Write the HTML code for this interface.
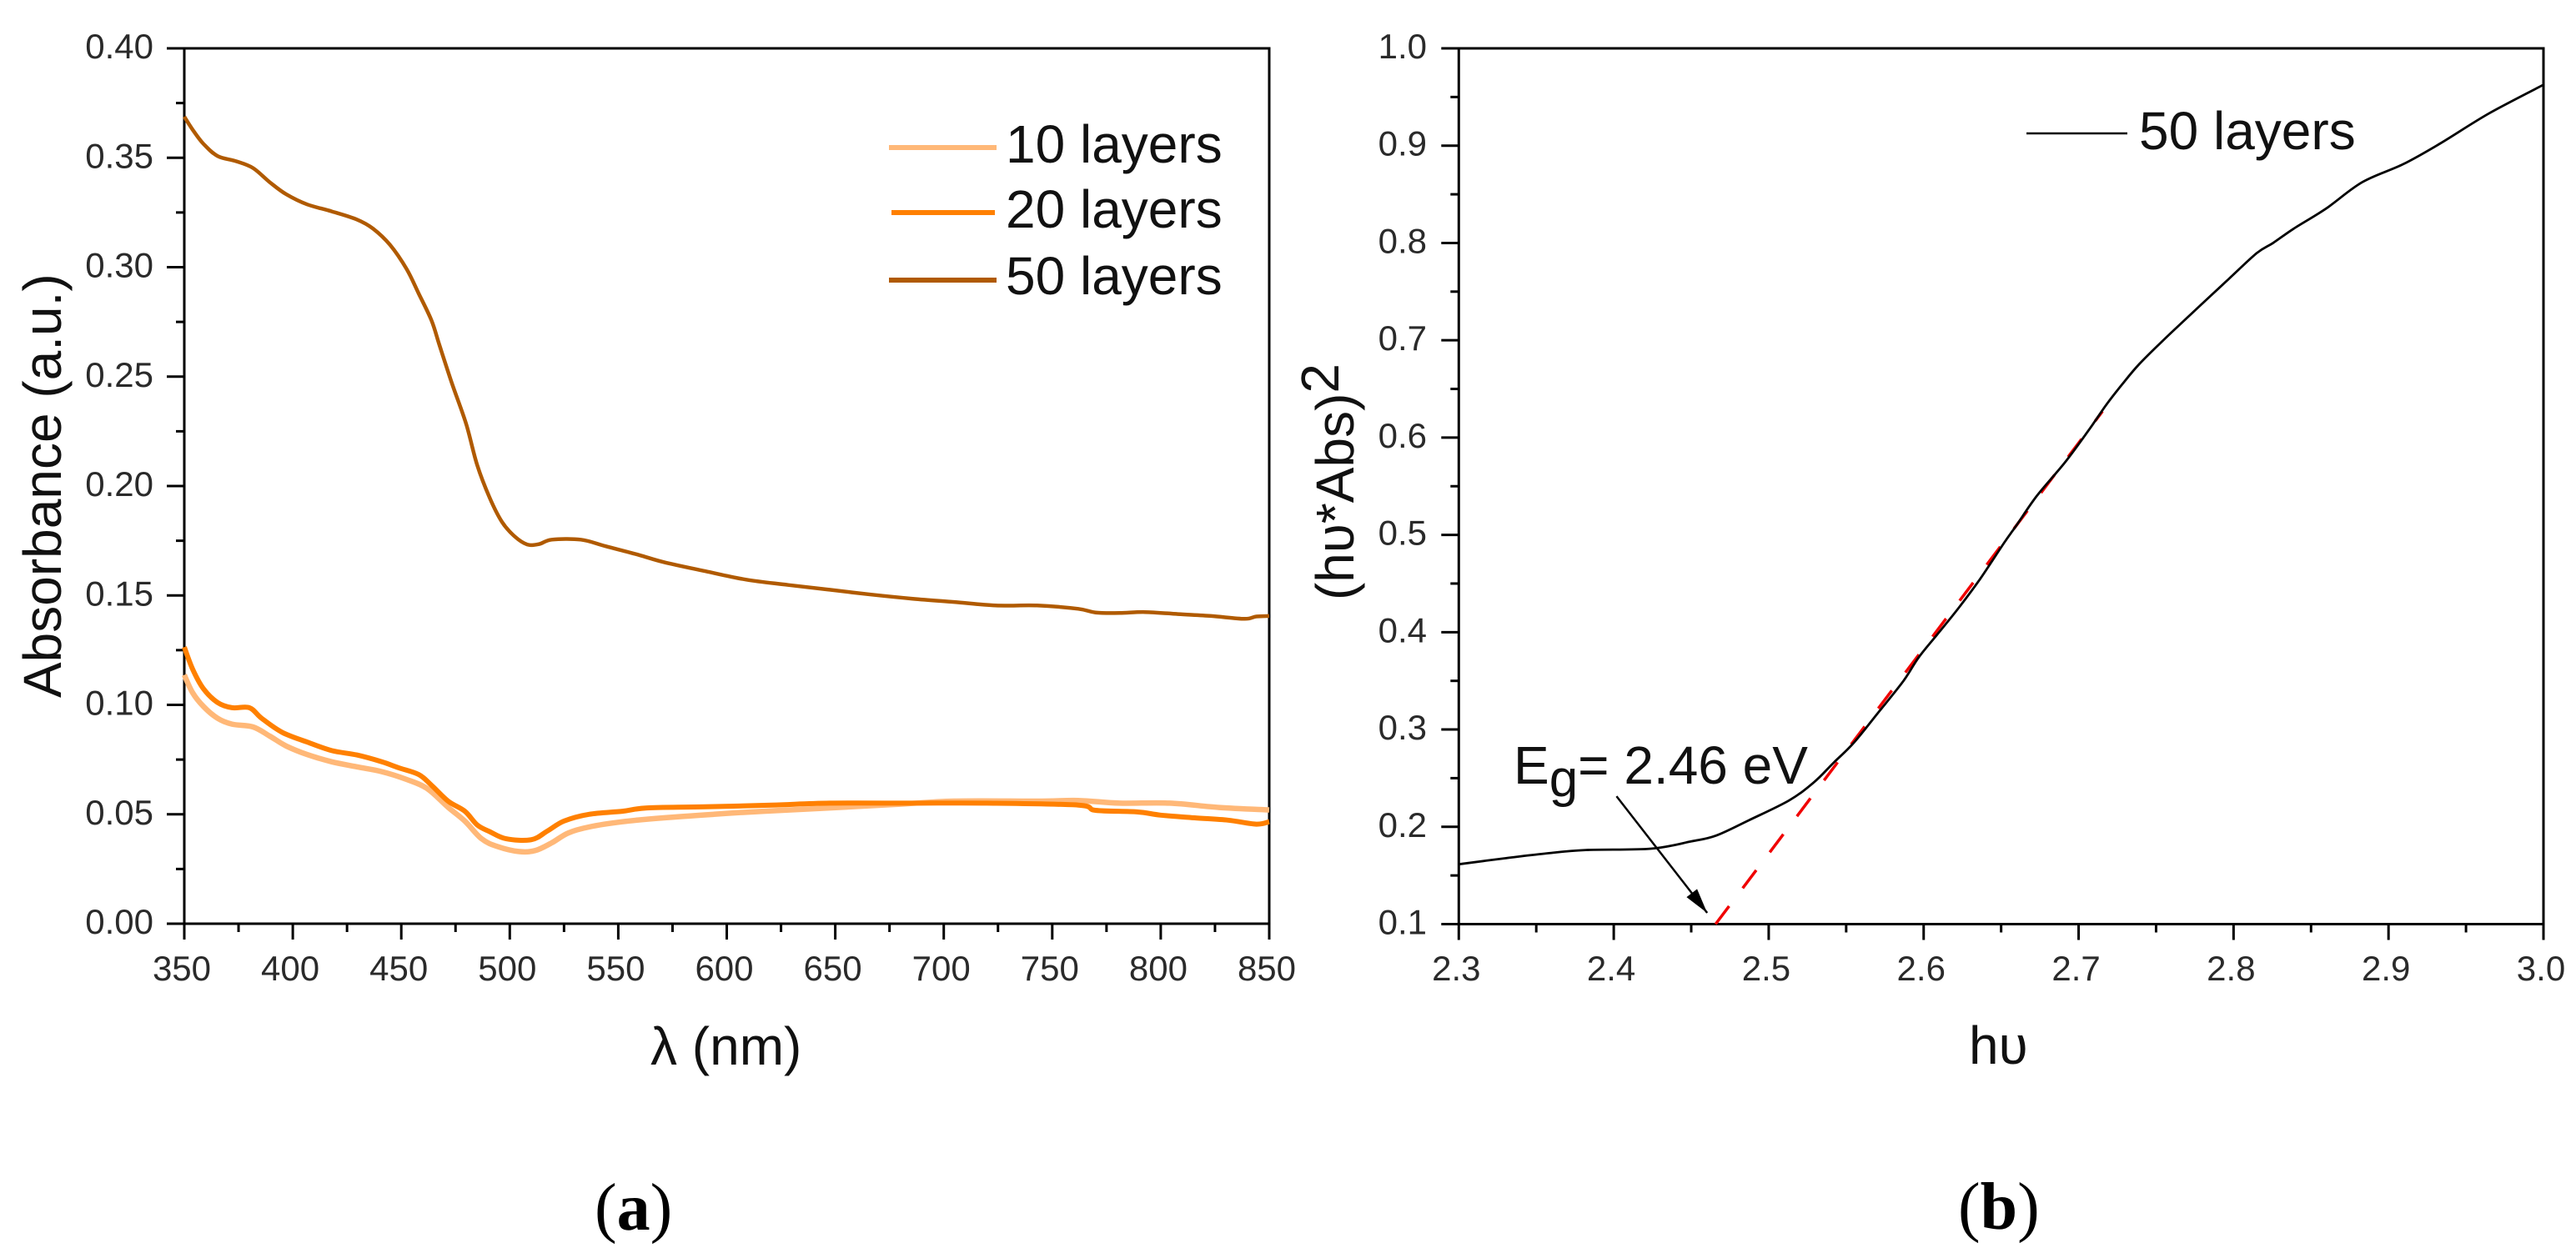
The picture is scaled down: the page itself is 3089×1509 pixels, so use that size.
<!DOCTYPE html>
<html lang="en">
<head>
<meta charset="utf-8">
<title>Absorbance spectra and band gap plot</title>
<style>
html,body{margin:0;padding:0;background:#fff;width:3089px;height:1509px;overflow:hidden}
svg{display:block}
text{font-family:"Liberation Sans",sans-serif;fill:#111}
.tick{font-size:42px;fill:#2a2a2a}
.big{font-size:64px}
.cap{font-family:"Liberation Serif",serif;font-size:80px;fill:#000}
</style>
</head>
<body>
<svg id="fig" xmlns="http://www.w3.org/2000/svg" width="3089" height="1509" viewBox="0 0 3089 1509">
  <rect x="0" y="0" width="3089" height="1509" fill="#fff"/>
  <g id="panelA"></g>
  <g id="panelB"></g>

  <text class="big" transform="translate(73,837) rotate(-90)">Absorbance (a.u.)</text>
  <text class="big" x="780" y="1277">λ (nm)</text>
  <text class="cap" x="713" y="1475">(<tspan font-weight="bold">a</tspan>)</text>

  <g>
    <line x1="1066" x2="1195" y1="177" y2="177" stroke="#ffb878" stroke-width="6"/>
    <text class="big" x="1206" y="195">10 layers</text>
    <line x1="1069" x2="1193" y1="255" y2="255" stroke="#ff8000" stroke-width="6"/>
    <text class="big" x="1206" y="273">20 layers</text>
    <line x1="1066" x2="1195" y1="336" y2="336" stroke="#b05a00" stroke-width="6"/>
    <text class="big" x="1206" y="353">50 layers</text>
  </g>

  <text class="big" transform="translate(1623,720) rotate(-90)">(hυ*Abs)<tspan dy="-18">2</tspan></text>
  <text class="big" x="2361" y="1276">hυ</text>
  <text class="cap" x="2348" y="1474">(<tspan font-weight="bold">b</tspan>)</text>

  <g>
    <line x1="2430" x2="2551" y1="160" y2="160" stroke="#000" stroke-width="2.5"/>
    <text class="big" x="2565" y="179">50 layers</text>
  </g>

  <text class="big" x="1815" y="940">E<tspan dy="15" font-size="62">g</tspan><tspan dy="-15">= 2.46 eV</tspan></text>
</svg>

<script>
// ---- Panel (a) data ----
const wavelength10 = [350,353.8,358.8,365.3,372,381.7,389.4,397,406.6,418,429.5,441,452.5,462,471.6,479.3,487,494.5,504,511.7,519.4,527,536.5,551.9,571,594,617,647.4,678,704.8,743,762,781,804,827,850];
const absorbance10 = [.1137,.1056,.0993,.0939,.0912,.0899,.0857,.0812,.0773,.074,.0717,.0695,.0659,.0617,.0532,.0469,.0388,.0352,.033,.0334,.037,.0415,.0442,.0466,.0484,.05,.0514,.0529,.0545,.056,.056,.0563,.0551,.0551,.0531,.052];
const wavelength20 = [350,353.8,358.8,365.3,372,380,385.6,395,406.6,418,429.5,441,448.6,458,464,471.6,479.3,485,490.7,498.3,510,517.4,525,536.5,551.9,563.3,590,620.8,647.4,685.7,720,762,770,789,800,815.6,831,844,850];
const absorbance20 = [.1264,.1164,.1074,.1011,.0987,.0987,.0939,.0875,.083,.0791,.0771,.074,.0713,.0682,.0632,.056,.0514,.0451,.0421,.0388,.0384,.0424,.0469,.05,.0514,.0529,.0534,.0542,.0551,.0551,.0551,.0542,.0518,.0511,.0496,.0484,.0473,.0455,.0466];
const wavelength50 = [350,353.8,358.8,365.3,374,381.7,389.4,397,406.6,418,429.5,437,444.8,452.5,458,464,467.7,473.5,480,485,490.7,496.4,502,508,513.6,519.4,532.7,544.2,559.5,571,590,609,628.3,647.4,666.5,685.7,704.8,723.9,743,762,770,781,792.7,808,823.3,838.6,844,850];
const absorbance50 = [.3688,.3629,.3564,.3508,.3484,.3453,.3388,.3333,.3287,.3255,.3218,.3176,.3102,.2991,.288,.2755,.2640,.2465,.228,.2095,.1947,.1836,.1772,.1733,.1735,.1755,.1755,.1725,.1685,.1652,.1611,.1572,.1548,.1526,.1504,.1485,.147,.1454,.1454,.1439,.1422,.142,.1424,.1415,.1406,.1393,.1404,.1406];
const xTicksA = [350,400,450,500,550,600,650,700,750,800,850];
const xMinorA = [375,425,475,525,575,625,675,725,775,825];
const yTicksA = ["0.00","0.05","0.10","0.15","0.20","0.25","0.30","0.35","0.40"];
const yMinorA = [0.025,0.075,0.125,0.175,0.225,0.275,0.325,0.375];

// ---- Panel (b) data ----
const photonEnergy = [2.3,2.3294,2.3557,2.382,2.424,2.45,2.466,2.487,2.513,2.529,2.542,2.555,2.571,2.587,2.597,2.61,2.623,2.6365,2.652,2.66,2.673,2.6917,2.707,2.718,2.728,2.739,2.7546,2.7756,2.7966,2.815,2.8255,2.8387,2.8597,2.883,2.9095,2.933,2.9647,3.0];
const tauc = [.1615,.1676,.1725,.1762,.1775,.185,.191,.2066,.227,.2455,.266,.2865,.318,.35,.3746,.4,.4258,.4549,.492,.51,.54,.5755,.6087,.634,.6545,.6753,.7,.7314,.7626,.7896,.8,.8146,.8353,.8624,.881,.9019,.933,.9626];
const fitEnergy = [2.4657,2.7154];
const fitValue = [0.1,0.627];
const arrowEnergy = [2.4018,2.4603];
const arrowValue = [0.2314,0.1116];
const xTicksB = ["2.3","2.4","2.5","2.6","2.7","2.8","2.9","3.0"];
const xMinorB = [2.35,2.45,2.55,2.65,2.75,2.85,2.95];
const yTicksB = ["0.1","0.2","0.3","0.4","0.5","0.6","0.7","0.8","0.9","1.0"];
const yMinorB = [0.15,0.25,0.35,0.45,0.55,0.65,0.75,0.85,0.95];

const NS = 'http://www.w3.org/2000/svg';

function make(parent, tag, attrs, txt) {
  const el = document.createElementNS(NS, tag);
  for (const k in attrs) el.setAttribute(k, attrs[k]);
  if (txt !== undefined) el.textContent = txt;
  parent.appendChild(el);
  return el;
}

function scale(d0, d1, r0, r1) {
  return function (v) { return r0 + (v - d0) / (d1 - d0) * (r1 - r0); };
}

function drawFrame(g, box, sx, sy, xMajor, xMinor, yMajor, yMinor, yLabelX, xFmt) {
  const frame = make(g, 'path', {
    d: 'M' + box.l + ' ' + box.b + 'V' + box.t + 'H' + box.r + 'V' + box.b + 'Z',
    fill: 'none', stroke: '#000', 'stroke-width': 3
  });
  
  

  xMajor.forEach(function (v) {
    const x = sx(+v);
    const t = make(g, 'line', { x1: x, x2: x, y1: box.b, y2: box.b + 19, stroke: '#000', 'stroke-width': 3 });
    
    
    const lab = make(g, 'text', { x: x - 3, y: 1176, 'text-anchor': 'middle', class: 'tick' }, xFmt(v));
    
    
  });
  xMinor.forEach(function (v) {
    const x = sx(v);
    const t = make(g, 'line', { x1: x, x2: x, y1: box.b, y2: box.b + 10, stroke: '#000', 'stroke-width': 3 });
    
    
  });
  yMajor.forEach(function (v) {
    const y = sy(+v);
    const t = make(g, 'line', { x1: box.l - 21, x2: box.l, y1: y, y2: y, stroke: '#000', 'stroke-width': 3 });
    
    
    const lab = make(g, 'text', { x: yLabelX, y: y + 12, 'text-anchor': 'end', class: 'tick' }, v);
    
    
  });
  yMinor.forEach(function (v) {
    const y = sy(v);
    const t = make(g, 'line', { x1: box.l - 10, x2: box.l, y1: y, y2: y, stroke: '#000', 'stroke-width': 3 });
    
    
  });
}

function linePath(xs, ys, sx, sy) {
  return xs.map(function (v, i) {
    return (i ? 'L' : 'M') + sx(v).toFixed(1) + ' ' + sy(ys[i]).toFixed(1);
  }).join('');
}

// Smooth curve through the read points (Catmull-Rom converted to cubic Beziers)
function smoothPath(xs, ys, sx, sy) {
  const p = xs.map(function (v, i) { return [sx(v), sy(ys[i])]; });
  let d = 'M' + p[0][0].toFixed(1) + ' ' + p[0][1].toFixed(1);
  for (let i = 0; i < p.length - 1; i++) {
    const a = p[Math.max(i - 1, 0)], b = p[i], c = p[i + 1], e = p[Math.min(i + 2, p.length - 1)];
    const c1x = b[0] + (c[0] - a[0]) / 6, c1y = b[1] + (c[1] - a[1]) / 6;
    const c2x = c[0] - (e[0] - b[0]) / 6, c2y = c[1] - (e[1] - b[1]) / 6;
    d += 'C' + c1x.toFixed(1) + ' ' + c1y.toFixed(1) + ' ' + c2x.toFixed(1) + ' ' + c2y.toFixed(1) + ' ' + c[0].toFixed(1) + ' ' + c[1].toFixed(1);
  }
  return d;
}

// Panel (a)
const boxA = { l: 221, r: 1522, t: 58, b: 1108 };
const xA = scale(350, 850, boxA.l, boxA.r);
const yA = scale(0, 0.4, boxA.b, boxA.t);
const gA = document.getElementById('panelA');
drawFrame(gA, boxA, xA, yA, xTicksA, xMinorA, yTicksA, yMinorA, 184, String);

const series10 = make(gA, 'path', { d: smoothPath(wavelength10, absorbance10, xA, yA), fill: 'none', stroke: '#ffb878', 'stroke-width': 6.5, 'stroke-linejoin': 'round' });


const series20 = make(gA, 'path', { d: smoothPath(wavelength20, absorbance20, xA, yA), fill: 'none', stroke: '#ff8000', 'stroke-width': 6, 'stroke-linejoin': 'round' });


const series50 = make(gA, 'path', { d: smoothPath(wavelength50, absorbance50, xA, yA), fill: 'none', stroke: '#b05a00', 'stroke-width': 4.5, 'stroke-linejoin': 'round' });



// Panel (b)
const boxB = { l: 1749.3, r: 3050, t: 58, b: 1108.5 };
const xB = scale(2.3, 3.0, boxB.l, boxB.r);
const yB = scale(0.1, 1.0, boxB.b, boxB.t);
const gB = document.getElementById('panelB');
drawFrame(gB, boxB, xB, yB, xTicksB, xMinorB, yTicksB, yMinorB, 1711, String);

const fitLine = make(gB, 'path', { d: linePath(fitEnergy, fitValue, xB, yB), fill: 'none', stroke: '#f00000', 'stroke-width': 3.5, 'stroke-dasharray': '27 27' });


const taucCurve = make(gB, 'path', { d: smoothPath(photonEnergy, tauc, xB, yB), fill: 'none', stroke: '#000', 'stroke-width': 2.8, 'stroke-linejoin': 'round' });



// Arrow from annotation to the intercept
const ax0 = xB(arrowEnergy[0]), ay0 = yB(arrowValue[0]);
const ax1 = xB(arrowEnergy[1]), ay1 = yB(arrowValue[1]);
const arrowLine = make(gB, 'line', { x1: ax0, y1: ay0, x2: ax1, y2: ay1, stroke: '#000', 'stroke-width': 2.5 });


const len = Math.hypot(ax1 - ax0, ay1 - ay0);
const ux = (ax1 - ax0) / len, uy = (ay1 - ay0) / len;
const hx = ax1 - ux * 30, hy = ay1 - uy * 30;
const arrowHead = make(gB, 'polygon', {
  points: ax1 + ',' + ay1 + ' ' + (hx - uy * 8) + ',' + (hy + ux * 8) + ' ' + (hx + uy * 8) + ',' + (hy - ux * 8),
  fill: '#000'
});


</script>
</body>
</html>
